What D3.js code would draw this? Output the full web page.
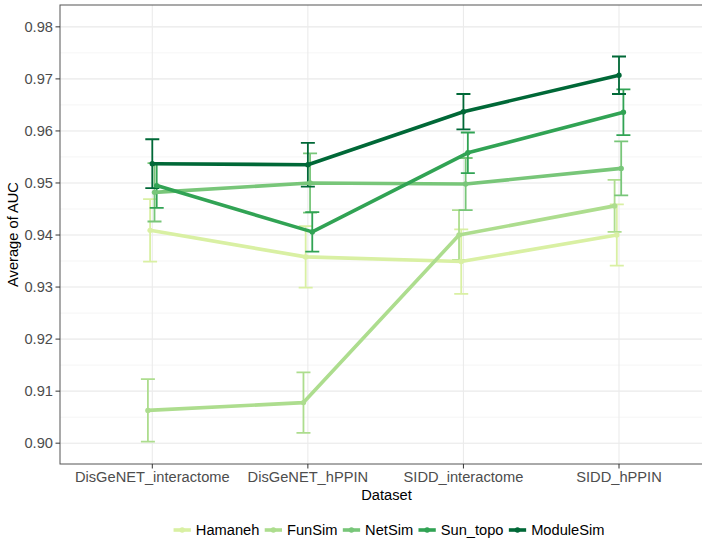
<!DOCTYPE html>
<html>
<head>
<meta charset="utf-8">
<script src="https://cdn.jsdelivr.net/npm/d3@7"></script>
<style>
  html, body { margin: 0; padding: 0; background: #fff; }
  svg { display: block; font-family: "Liberation Sans", Arial, sans-serif; }
</style>
</head>
<body>
<svg id="chart" width="702" height="539"></svg>
<script>
// Datasets on the x axis
const categories = ["DisGeNET_interactome", "DisGeNET_hPPIN", "SIDD_interactome", "SIDD_hPPIN"];

// Methods, in legend order
const methods = ["Hamaneh", "FunSim", "NetSim", "Sun_topo", "ModuleSim"];

// Mean AUC per method across the datasets
const hamanehAUC   = [0.9409, 0.9358, 0.9349, 0.9400];
const funSimAUC    = [0.9063, 0.9078, 0.9400, 0.9456];
const netSimAUC    = [0.9482, 0.9500, 0.9498, 0.9528];
const sunTopoAUC   = [0.9495, 0.9406, 0.9558, 0.9636];
const moduleSimAUC = [0.9537, 0.9535, 0.9637, 0.9707];

// Standard deviation of AUC (error bar half-width)
const hamanehSD   = [0.0060, 0.0059, 0.0062, 0.0059];
const funSimSD    = [0.0060, 0.0058, 0.0048, 0.0050];
const netSimSD    = [0.0056, 0.0057, 0.0050, 0.0052];
const sunTopoSD   = [0.0043, 0.0038, 0.0039, 0.0044];
const moduleSimSD = [0.0047, 0.0042, 0.0034, 0.0036];

// Y axis tick values
const yTicks = [0.90, 0.91, 0.92, 0.93, 0.94, 0.95, 0.96, 0.97, 0.98];

const colors = ["#d9f0a3", "#addd8e", "#78c679", "#31a354", "#006837"];

const meansByMethod = [hamanehAUC, funSimAUC, netSimAUC, sunTopoAUC, moduleSimAUC];
const sdsByMethod = [hamanehSD, funSimSD, netSimSD, sunTopoSD, moduleSimSD];

const series = methods.map((m, i) => ({
  name: m,
  color: colors[i],
  values: categories.map((c, j) => ({ cat: c, mean: meansByMethod[i][j], sd: sdsByMethod[i][j] }))
}));

// Panel geometry
const panel = { left: 60, right: 713, top: 5, bottom: 464 };

const x = d3.scalePoint().domain(categories).range([152.3, 619]);
const y = d3.scaleLinear().domain([0.896, 0.9842]).range([panel.bottom, panel.top]);

// Dodge groups alphabetically, centred on the category position
const dodgeOrder = methods.slice().sort();
const dodgeStep = 2.2;
const dodge = name => (dodgeOrder.indexOf(name) - (dodgeOrder.length - 1) / 2) * dodgeStep;
const xPos = (s, d) => x(d.cat) + dodge(s.name);

const svg = d3.select("#chart");

const defs = svg.append("defs");
defs.append("clipPath").attr("id", "panel-clip")
  .append("rect")
  .attr("x", panel.left).attr("y", panel.top)
  .attr("width", panel.right - panel.left).attr("height", panel.bottom - panel.top);

// Grid lines
const grid = svg.append("g");
const minorTicks = d3.range(0.895, 0.985, 0.005).filter(v => y(v) >= panel.top && y(v) <= panel.bottom);
grid.selectAll("line.minor").data(minorTicks).join("line")
  .attr("x1", panel.left).attr("x2", panel.right)
  .attr("y1", d => y(d)).attr("y2", d => y(d))
  .attr("stroke", "#f2f2f2").attr("stroke-width", 0.8);
grid.selectAll("line.major").data(yTicks).join("line")
  .attr("x1", panel.left).attr("x2", panel.right)
  .attr("y1", d => y(d)).attr("y2", d => y(d))
  .attr("stroke", "#ebebeb").attr("stroke-width", 1.1);
grid.selectAll("line.vmajor").data(categories).join("line")
  .attr("x1", d => x(d)).attr("x2", d => x(d))
  .attr("y1", panel.top).attr("y2", panel.bottom)
  .attr("stroke", "#ebebeb").attr("stroke-width", 1.1);

const plot = svg.append("g").attr("clip-path", "url(#panel-clip)");

// Error bars
const capHalf = 7;
series.forEach(s => {
  const g = plot.append("g").attr("stroke", s.color).attr("stroke-width", 1.8).attr("fill", "none");
  s.values.forEach(d => {
    const cx = xPos(s, d);
    const y0 = y(d.mean - d.sd), y1 = y(d.mean + d.sd);
    g.append("path")
      .attr("d", `M${cx - capHalf},${y1}H${cx + capHalf}M${cx},${y1}V${y0}M${cx - capHalf},${y0}H${cx + capHalf}`);
  });
});

// Lines
const line = d3.line();
series.forEach(s => {
  plot.append("path")
    .attr("d", line(s.values.map(d => [xPos(s, d), y(d.mean)])))
    .attr("fill", "none")
    .attr("stroke", s.color)
    .attr("stroke-width", 3.6)
    .attr("stroke-linejoin", "round");
});

// Points
series.forEach(s => {
  plot.append("g").selectAll("circle").data(s.values).join("circle")
    .attr("cx", d => xPos(s, d))
    .attr("cy", d => y(d.mean))
    .attr("r", 2.7)
    .attr("fill", s.color);
});

// Panel border
svg.append("rect")
  .attr("x", panel.left).attr("y", panel.top)
  .attr("width", panel.right - panel.left).attr("height", panel.bottom - panel.top)
  .attr("fill", "none").attr("stroke", "#555").attr("stroke-width", 1);

// Y axis
const yAxis = svg.append("g");
yAxis.selectAll("line").data(yTicks).join("line")
  .attr("x1", panel.left - 4.5).attr("x2", panel.left)
  .attr("y1", d => y(d)).attr("y2", d => y(d))
  .attr("stroke", "#333").attr("stroke-width", 1);
yAxis.selectAll("text").data(yTicks).join("text")
  .attr("x", panel.left - 7).attr("y", d => y(d) + 5.3)
  .attr("text-anchor", "end")
  .attr("font-size", "14.67px").attr("fill", "#4d4d4d")
  .text(d => d3.format(".2f")(d));

// X axis
const xAxis = svg.append("g");
xAxis.selectAll("line").data(categories).join("line")
  .attr("x1", d => x(d)).attr("x2", d => x(d))
  .attr("y1", panel.bottom).attr("y2", panel.bottom + 4.5)
  .attr("stroke", "#333").attr("stroke-width", 1);
xAxis.selectAll("text").data(categories).join("text")
  .attr("x", d => x(d)).attr("y", 481.5)
  .attr("text-anchor", "middle")
  .attr("font-size", "14.67px").attr("fill", "#4d4d4d")
  .text(d => d);

// Axis titles
svg.append("text")
  .attr("x", (panel.left + panel.right) / 2).attr("y", 499.5)
  .attr("text-anchor", "middle").attr("font-size", "14.67px").attr("fill", "#000")
  .text("Dataset");
svg.append("text")
  .attr("transform", `translate(18.3,${(panel.top + panel.bottom) / 2}) rotate(-90)`)
  .attr("text-anchor", "middle").attr("font-size", "14.67px").attr("fill", "#000")
  .text("Average of AUC");

// Legend
const legend = svg.append("g");
const keyW = 17.3, keyGap = 5, itemGap = 5.3, legendY = 530, legendCenter = 389;
let cursor = 0;
const items = series.map(s => {
  const g = legend.append("g");
  g.append("line").attr("x1", 0).attr("x2", keyW).attr("y1", legendY).attr("y2", legendY)
    .attr("stroke", s.color).attr("stroke-width", 3.6);
  g.append("circle").attr("cx", keyW / 2).attr("cy", legendY).attr("r", 2.7).attr("fill", s.color);
  const t = g.append("text").attr("x", keyW + keyGap).attr("y", legendY + 5)
    .attr("font-size", "14.67px").attr("fill", "#000").text(s.name);
  const w = keyW + keyGap + t.node().getComputedTextLength();
  g.attr("transform", `translate(${cursor},0)`);
  cursor += w + itemGap;
  return g;
});
const totalW = cursor - itemGap;
legend.attr("transform", `translate(${legendCenter - totalW / 2},0)`);
</script>
</body>
</html>
